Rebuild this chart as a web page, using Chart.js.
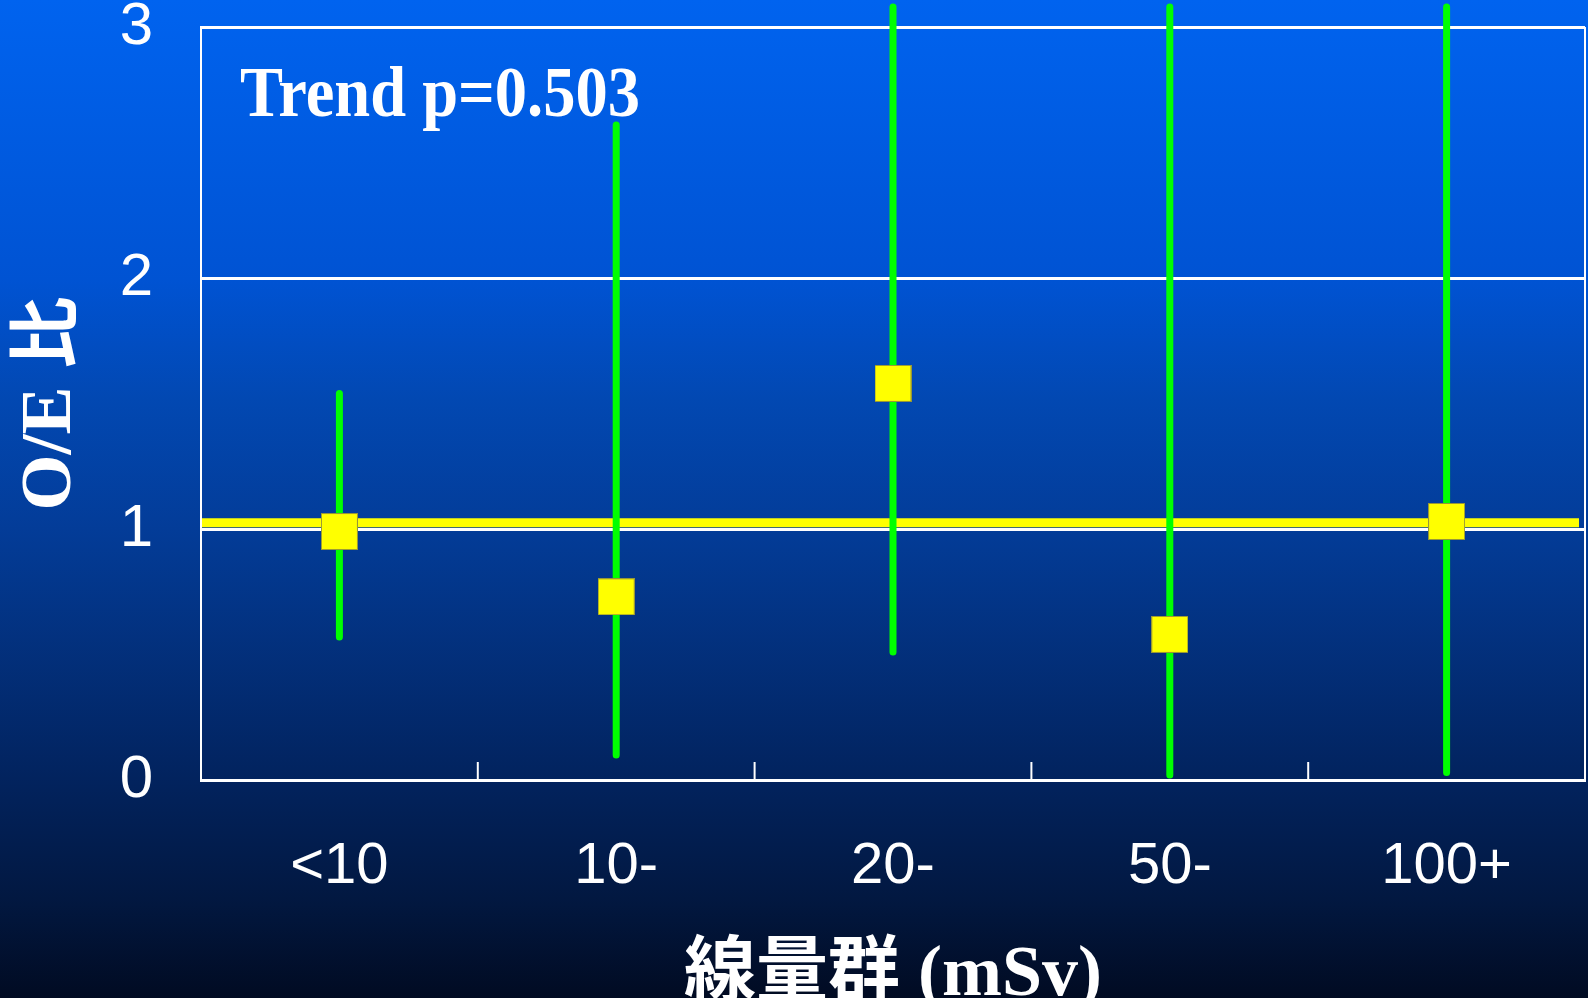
<!DOCTYPE html>
<html>
<head>
<meta charset="utf-8">
<script src="https://cdn.jsdelivr.net/npm/chart.js@4"></script>
<style>
  html, body { margin: 0; padding: 0; overflow: hidden; }
  body {
    width: 1588px; height: 998px;
    background: linear-gradient(to bottom, #0063ef 0%, #0053d3 28%, #0248b2 40%, #033c98 53%, #02235e 78%, #021841 90%, #010b22 100%);
  }
  canvas { display: block; }
</style>
</head>
<body>
<canvas id="chart" width="1588" height="998"></canvas>
<script>
// dose groups (mSv)
const categories = ['<10', '10-', '20-', '50-', '100+'];
// observed / expected ratio and confidence limits
const oeRatio = [0.99, 0.73, 1.58, 0.58, 1.03];
const ciLower = [0.57, 0.10, 0.51, 0.02, 0.03];
const ciUpper = [1.54, 2.61, 3.08, 3.08, 3.08]; // upper ends run off the top of the plot
const yTicks = [0, 1, 2, 3];
const refLine = 1.025;
const trendText = 'Trend p=0.503';

const sansFont = '"Liberation Sans", Arial, sans-serif';
const titleFont = '"Liberation Serif", "Times New Roman", "Noto Sans CJK JP", serif';

// square marker as an image so the layout doesn't reserve room for a big point radius
const marker = document.createElement('canvas');
marker.width = 37;
marker.height = 37;
(function () {
  const m = marker.getContext('2d');
  m.fillStyle = '#ffff00';
  m.fillRect(0, 0, 37, 37);
  m.strokeStyle = 'rgba(140,140,60,0.9)';
  m.lineWidth = 1;
  m.strokeRect(0.5, 0.5, 36, 36);
})();

// reference line, confidence bars, inner tick marks, frame
const ciPlugin = {
  id: 'ciBars',
  beforeDatasetsDraw(chart) {
    const ctx = chart.ctx;
    const x = chart.scales.x, y = chart.scales.y;
    const area = chart.chartArea;
    ctx.save();

    // right border
    ctx.strokeStyle = '#ffffff';
    ctx.lineWidth = 2;
    ctx.beginPath();
    ctx.moveTo(area.right, area.top);
    ctx.lineTo(area.right, area.bottom);
    ctx.stroke();

    // small ticks between categories
    for (let i = 0; i < categories.length - 1; i++) {
      const bx = (x.getPixelForValue(i) + x.getPixelForValue(i + 1)) / 2;
      ctx.beginPath();
      ctx.moveTo(bx, area.bottom);
      ctx.lineTo(bx, area.bottom - 18);
      ctx.stroke();
    }

    // O/E = 1 line
    const ry = y.getPixelForValue(refLine);
    ctx.strokeStyle = '#ffff00';
    ctx.lineWidth = 9;
    ctx.beginPath();
    ctx.moveTo(area.left + 1, ry);
    ctx.lineTo(area.right - 6, ry);
    ctx.stroke();

    // confidence intervals
    ctx.strokeStyle = '#00ff00';
    ctx.lineWidth = 7;
    ctx.lineCap = 'round';
    categories.forEach((c, i) => {
      const px = x.getPixelForValue(i);
      ctx.beginPath();
      ctx.moveTo(px, y.getPixelForValue(ciLower[i]));
      ctx.lineTo(px, y.getPixelForValue(ciUpper[i]));
      ctx.stroke();
    });
    ctx.restore();
  },
  afterDraw(chart) {
    const ctx = chart.ctx;
    ctx.save();
    ctx.fillStyle = '#ffffff';
    ctx.font = 'bold 72px ' + titleFont;
    ctx.textBaseline = 'alphabetic';
    ctx.textAlign = 'left';
    ctx.fillText(trendText, 240, 116, 400);
    ctx.restore();
  }
};

new Chart(document.getElementById('chart'), {
  type: 'line',
  data: {
    labels: categories,
    datasets: [{
      label: 'O/E',
      data: oeRatio,
      showLine: false,
      pointStyle: marker,
      pointRadius: 1,
      pointHoverRadius: 1,
      pointBorderWidth: 0,
      clip: false
    }]
  },
  options: {
    responsive: false,
    animation: false,
    events: [],
    layout: { padding: { left: 0, top: 27, right: 3, bottom: 0 } },
    plugins: {
      legend: { display: false },
      tooltip: { enabled: false }
    },
    scales: {
      x: {
        type: 'category',
        offset: true,
        grid: { display: false },
        border: { display: true, color: '#ffffff', width: 3 },
        ticks: {
          color: '#ffffff',
          font: { family: sansFont, size: 58 },
          padding: 44,
          maxRotation: 0
        },
        title: {
          display: true,
          text: '線量群 (mSv)',
          color: '#ffffff',
          font: { family: titleFont, size: 72, weight: 'bold', lineHeight: 1 },
          padding: { top: 0, bottom: -14 }
        },
        afterFit(scale) {
          scale.height = 218;
          scale.paddingLeft = 0;
          scale.paddingRight = 0;
        }
      },
      y: {
        min: 0,
        max: 3,
        afterBuildTicks(scale) { scale.ticks = yTicks.map(v => ({ value: v })); },
        grid: { color: '#ffffff', lineWidth: 3, drawTicks: false },
        border: { display: true, color: '#ffffff', width: 2 },
        ticks: {
          color: '#ffffff',
          font: { family: sansFont, size: 60 },
          padding: 48
        },
        title: {
          display: true,
          text: 'O/E 比',
          color: '#ffffff',
          font: { family: titleFont, size: 72, weight: 'bold', lineHeight: 1 },
          padding: { top: 15, bottom: 0 }
        },
        afterFit(scale) {
          scale.width = 201;
          scale.paddingTop = 0;
          scale.paddingBottom = 0;
        }
      }
    }
  },
  plugins: [ciPlugin]
});
</script>
</body>
</html>
